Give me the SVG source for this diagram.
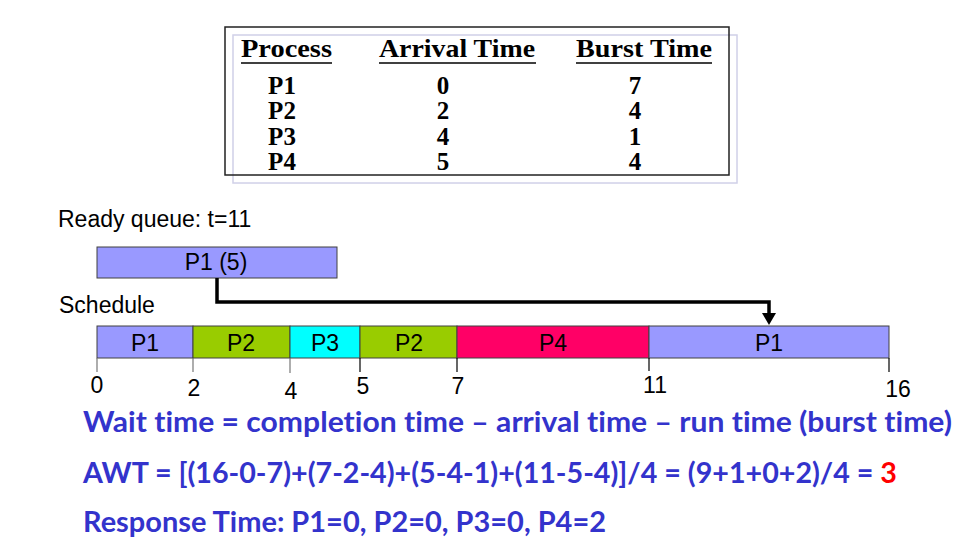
<svg xmlns="http://www.w3.org/2000/svg" width="967" height="540" viewBox="0 0 967 540">
<style>
.tb{font-family:"Liberation Serif","Times New Roman",serif;font-weight:bold;font-size:25px;fill:#000}
.ar{font-family:"Liberation Sans",Arial,sans-serif;font-size:23px;fill:#000}
.bl{font-family:Lato,"Open Sans","Liberation Sans",sans-serif;font-weight:bold;font-size:28px;fill:#3333CC;font-variant-ligatures:none;font-feature-settings:"liga" 0,"clig" 0}
.seg{stroke:#404040;stroke-width:1}
.conn{fill:none;stroke:#000;stroke-width:3.5}
</style>
<rect width="967" height="540" fill="#fff"/>
<g id="table">
<rect x="233" y="35" width="504" height="148" fill="none" stroke="#d0d0e8" stroke-width="1.5"/>
<rect x="225" y="27" width="504" height="148" fill="none" stroke="#222" stroke-width="1.5"/>
<text class="tb" x="241" y="57" textLength="91" lengthAdjust="spacingAndGlyphs">Process</text>
<text class="tb" x="379" y="57" textLength="156" lengthAdjust="spacingAndGlyphs">Arrival Time</text>
<text class="tb" x="576" y="57" textLength="136" lengthAdjust="spacingAndGlyphs">Burst Time</text>
<g stroke="#000" stroke-width="1.5">
<line x1="241" y1="63" x2="332" y2="63"/>
<line x1="379" y1="63" x2="536" y2="63"/>
<line x1="576" y1="63" x2="712" y2="63"/>
</g>
<g text-anchor="middle">
<text class="tb" x="282" y="94">P1</text>
<text class="tb" x="282" y="119">P2</text>
<text class="tb" x="282" y="145">P3</text>
<text class="tb" x="282" y="170">P4</text>
<text class="tb" x="443" y="94">0</text>
<text class="tb" x="443" y="119">2</text>
<text class="tb" x="443" y="145">4</text>
<text class="tb" x="443" y="170">5</text>
<text class="tb" x="635" y="94">7</text>
<text class="tb" x="635" y="119">4</text>
<text class="tb" x="635" y="145">1</text>
<text class="tb" x="635" y="170">4</text>
</g>
</g>
<g id="ready-label"><text class="ar" x="58" y="227">Ready queue: t=11</text></g>
<g id="ready-p1">
<rect x="97" y="247" width="240" height="31" fill="#9999FF" class="seg"/>
<text class="ar" x="216" y="270" text-anchor="middle" font-size="22">P1 (5)</text>
</g>
<g id="schedule-label"><text class="ar" x="59" y="313">Schedule</text></g>
<g id="connectors">
<polyline class="conn" points="217,278 217,302 769,302 769,314"/>
<polygon points="762,313 776,313 769,325" fill="#000"/>
</g>
<g id="schedule">
<g id="s-p1a"><rect x="97" y="326" width="96" height="32" fill="#9999FF" class="seg"/><text class="ar" font-size="22" x="145" y="351" text-anchor="middle">P1</text></g>
<g id="s-p2a"><rect x="193" y="326" width="97" height="32" fill="#99CC00" class="seg"/><text class="ar" font-size="22" x="241" y="351" text-anchor="middle">P2</text></g>
<g id="s-p3"><rect x="290" y="326" width="70" height="32" fill="#00FFFF" class="seg"/><text class="ar" font-size="22" x="325" y="351" text-anchor="middle">P3</text></g>
<g id="s-p2b"><rect x="360" y="326" width="97" height="32" fill="#99CC00" class="seg"/><text class="ar" font-size="22" x="409" y="351" text-anchor="middle">P2</text></g>
<g id="s-p4"><rect x="457" y="326" width="192" height="32" fill="#FF0066" class="seg"/><text class="ar" font-size="22" x="553" y="351" text-anchor="middle">P4</text></g>
<g id="s-p1b"><rect x="649" y="326" width="240" height="32" fill="#9999FF" class="seg"/><text class="ar" font-size="22" x="769" y="351" text-anchor="middle">P1</text></g>
</g>
<g id="ticks">
<g stroke-width="1.2">
<line x1="97" y1="358" x2="97" y2="372" stroke="#777"/>
<line x1="193" y1="358" x2="193" y2="372" stroke="#777"/>
<line x1="290" y1="358" x2="290" y2="373" stroke="#777"/>
<line x1="360" y1="358" x2="360" y2="372" stroke="#000"/>
<line x1="457" y1="358" x2="457" y2="372" stroke="#000"/>
<line x1="649" y1="358" x2="649" y2="371" stroke="#000"/>
<line x1="889" y1="358" x2="889" y2="372" stroke="#000"/>
</g>
<g text-anchor="middle">
<text class="ar" font-size="22" x="97" y="393">0</text>
<text class="ar" font-size="22" x="194" y="396">2</text>
<text class="ar" font-size="22" x="291" y="399">4</text>
<text class="ar" font-size="22" x="363" y="394">5</text>
<text class="ar" font-size="22" x="458" y="394">7</text>
<text class="ar" font-size="22" x="655" y="393">11</text>
<text class="ar" font-size="22" x="898" y="397">16</text>
</g>
</g>
<g id="notes">
<text class="bl" x="83" y="432" textLength="869" lengthAdjust="spacingAndGlyphs">Wait time = completion time – arrival time – run time (burst time)</text>
<text class="bl" x="83" y="483" textLength="814" lengthAdjust="spacingAndGlyphs">AWT = [(16-0-7)+(7-2-4)+(5-4-1)+(11-5-4)]/4 = (9+1+0+2)/4 = <tspan fill="#FF0000">3</tspan></text>
<text class="bl" x="83" y="532" textLength="523" lengthAdjust="spacingAndGlyphs">Response Time: P1=0, P2=0, P3=0, P4=2</text>
</g>
</svg>
